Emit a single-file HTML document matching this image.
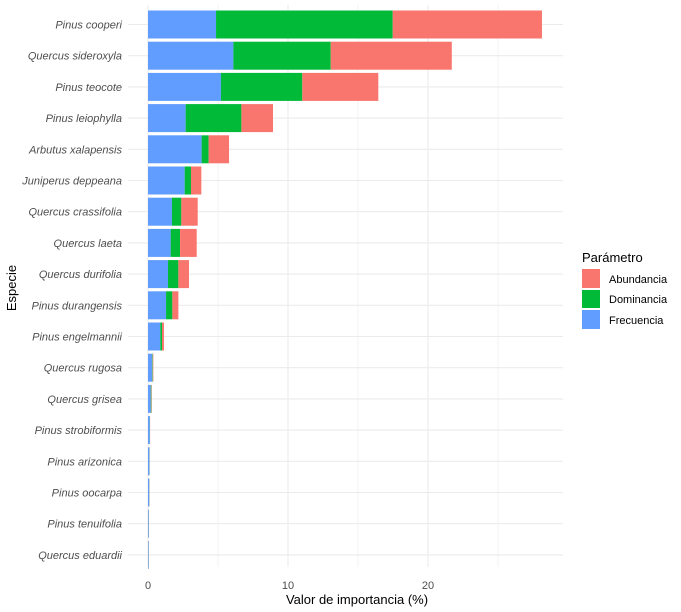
<!DOCTYPE html>
<html><head><meta charset="utf-8"><style>
body{margin:0;background:#fff;}
svg{display:block;font-family:"Liberation Sans",Arial,sans-serif;}
</style></head><body>
<svg id="chart" width="681" height="612" viewBox="0 0 681 612">
<rect width="681" height="612" fill="#fff"/>
<g id="grid"></g>
<g id="bars"></g>
<g id="ylabels"></g>
<g id="xlabels"></g>
<text x="357" y="604" text-anchor="middle" font-size="13" fill="#000">Valor de importancia (%)</text>
<text transform="translate(16,288) rotate(-90)" text-anchor="middle" font-size="13" fill="#000">Especie</text>
<g>
<text x="582" y="262" font-size="13" fill="#000">Parámetro</text>
<g><rect x="582" y="269" width="18" height="19" fill="#F8766D"/><text x="609" y="283" font-size="11" fill="#000">Abundancia</text></g>
<g><rect x="582" y="290" width="18" height="18" fill="#00BA38"/><text x="609" y="303" font-size="11" fill="#000">Dominancia</text></g>
<g><rect x="582" y="310" width="18" height="19" fill="#619CFF"/><text x="609" y="324" font-size="11" fill="#000">Frecuencia</text></g>
</g>
</svg>
<script>
const species=["Pinus cooperi","Quercus sideroxyla","Pinus teocote","Pinus leiophylla","Arbutus xalapensis","Juniperus deppeana","Quercus crassifolia","Quercus laeta","Quercus durifolia","Pinus durangensis","Pinus engelmannii","Quercus rugosa","Quercus grisea","Pinus strobiformis","Pinus arizonica","Pinus oocarpa","Pinus tenuifolia","Quercus eduardii"];
const frecuencia=[4.86,6.1,5.21,2.69,3.83,2.62,1.71,1.62,1.43,1.29,0.88,0.3,0.2,0.13,0.1,0.09,0.05,0.04];
const dominancia=[12.62,6.95,5.81,3.98,0.5,0.45,0.67,0.67,0.74,0.45,0.12,0.04,0.04,0.01,0.01,0.01,0.01,0.01];
const abundancia=[10.66,8.65,5.43,2.26,1.46,0.74,1.17,1.19,0.76,0.43,0.14,0.04,0.03,0.01,0.01,0.01,0.01,0.01];
const xTicks=[0,10,20];
{
const NS="http://www.w3.org/2000/svg";
const panelL=128,panelR=563,x0=148,pxPerUnit=14,rowTop=24.5,rowStep=31.2,barH=28;
function xs(v){return x0+v*pxPerUnit;}
function ys(i){return rowTop+i*rowStep;}
function mk(tag,attrs,parent){const e=document.createElementNS(NS,tag);for(const k in attrs)e.setAttribute(k,attrs[k]);parent.appendChild(e);return e;}
const grid=document.getElementById('grid'),bars=document.getElementById('bars'),yl=document.getElementById('ylabels'),xl=document.getElementById('xlabels');
const plotTop=ys(0)-19.5,plotBot=ys(species.length-1)+12;
for(let t=0;t<=25;t+=5){const l=mk('line',{x1:xs(t),x2:xs(t),y1:plotTop,y2:plotBot,stroke:'#ebebeb','stroke-width':t%10===0?1.1:0.6},grid);

}
species.forEach((s,i)=>{const l=mk('line',{x1:panelL,x2:panelR,y1:ys(i),y2:ys(i),stroke:'#ebebeb','stroke-width':1.1},grid);


const t=mk('text',{x:122,y:ys(i)+4,'text-anchor':'end','font-size':'11','font-style':'italic',fill:'#4d4d4d'},yl);t.textContent=s;


const series=[[frecuencia[i],'#619CFF','frecuencia'],[dominancia[i],'#00BA38','dominancia'],[abundancia[i],'#F8766D','abundancia']];
let acc=0;series.forEach(([v,c,n])=>{const r=mk('rect',{x:xs(acc),y:ys(i)-barH/2,width:Math.max(0,xs(acc+v)-xs(acc)),height:barH,fill:c},bars);


acc+=v;});});
xTicks.forEach(t=>{const e=mk('text',{x:xs(t),y:589,'text-anchor':'middle','font-size':'11',fill:'#4d4d4d'},xl);e.textContent=t;

});
}
</script>
</body></html>
